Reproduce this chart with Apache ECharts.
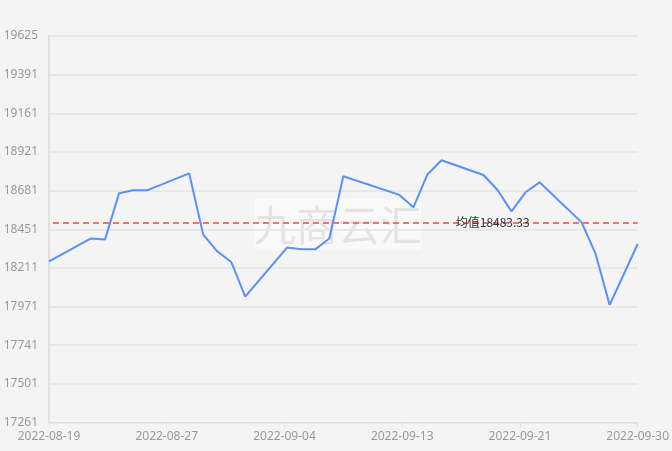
<!DOCTYPE html>
<html>
<head>
<meta charset="utf-8">
<script src="https://cdn.jsdelivr.net/npm/echarts@6/dist/echarts.min.js"></script>
<style>
html,body{margin:0;padding:0;background:#f4f4f4;}
#chart{width:672px;height:451px;}
</style>
</head>
<body>
<div id="chart"></div>
<script>
const dates = ['2022-08-19','2022-08-22','2022-08-23','2022-08-24','2022-08-25','2022-08-26',
  '2022-08-29','2022-08-30','2022-08-31','2022-09-01','2022-09-02',
  '2022-09-05','2022-09-06','2022-09-07','2022-09-08','2022-09-09',
  '2022-09-13','2022-09-14','2022-09-15','2022-09-16',
  '2022-09-19','2022-09-20','2022-09-21','2022-09-22','2022-09-23',
  '2022-09-26','2022-09-27','2022-09-28','2022-09-29','2022-09-30'];
const prices = [18247,18387,18381,18663,18681,18681,
  18785,18410,18308,18243,18031,
  18332,18320,18320,18386,18767,
  18653,18577,18778,18865,
  18775,18683,18552,18669,18730,
  18485,18292,17980,18166,18353];
const xTickLabels = ['2022-08-19','2022-08-27','2022-09-04','2022-09-13','2022-09-21','2022-09-30'];
const yTickLabels = ['17261','17501','17741','17971','18211','18451','18681','18921','19161','19391','19625'];
const startDate = '2022-08-19';
const endDate = '2022-09-30';
const yMin = 17261, yMax = 19625;

const DAY = 86400000;
const dayIndex = d => Math.round((Date.parse(d) - Date.parse(startDate)) / DAY);
const span = dayIndex(endDate);
const xInterval = span / (xTickLabels.length - 1);
const yInterval = (yMax - yMin) / (yTickLabels.length - 1);
const seriesData = dates.map((d, i) => [dayIndex(d), prices[i]]);

const chart = echarts.init(document.getElementById('chart'), null, {renderer: 'canvas'});
chart.setOption({
  backgroundColor: '#f4f4f4',
  animation: false,
  grid: {left: 49, right: 32, top: 36, bottom: 28.5, containLabel: false},
  xAxis: {
    type: 'value', min: 0, max: span, interval: xInterval,
    axisLine: {show: true, lineStyle: {color: '#e0e0e0', width: 1}},
    axisTick: {show: true, length: 5, lineStyle: {color: '#e0e0e0'}},
    splitLine: {show: false},
    axisLabel: {
      color: '#999', fontSize: 12, margin: 8, fontFamily: 'Noto Sans',
      formatter: v => xTickLabels[Math.round(v / xInterval)] || ''
    }
  },
  yAxis: {
    type: 'value', min: yMin, max: yMax, interval: yInterval,
    axisLine: {show: true, lineStyle: {color: '#e0e0e0', width: 2}},
    axisTick: {show: false},
    splitLine: {show: true, lineStyle: {color: '#e8e8e8', width: 2}},
    axisLabel: {
      color: '#999', fontSize: 12, margin: 11, fontFamily: 'Noto Sans',
      formatter: v => yTickLabels[Math.round((v - yMin) / yInterval)] || ''
    }
  },
  series: [{
    type: 'line',
    data: seriesData,
    symbol: 'none',
    lineStyle: {color: '#5B8FF9', width: 2},
    itemStyle: {color: '#5B8FF9'},
    markLine: {
      symbol: 'none',
      silent: true,
      precision: 2,
      lineStyle: {color: '#FA6E6E', type: [6, 4], dashOffset: 6, width: 2},
      label: {
        position: 'insideEnd',
        distance: [108, 0],
        color: '#333',
        fontSize: 12,
        fontFamily: 'Noto Sans CJK SC',
        formatter: '均值{c}'
      },
      data: [{type: 'average', name: '均值'}]
    }
  }],
  graphic: [{
    type: 'group',
    left: 254, top: 199, z: 100,
    children: [
      {type: 'rect', shape: {x: 0, y: 0, width: 166, height: 51},
       style: {fill: 'rgba(255,255,255,0.45)'}},
      {type: 'text', x: 83, y: 26,
       style: {text: '九商云汇', font: '42px "Noto Sans CJK SC"', fill: 'rgba(0,0,0,0.085)',
               textAlign: 'center', textVerticalAlign: 'middle'}}
    ]
  }]
});
</script>
</body>
</html>
